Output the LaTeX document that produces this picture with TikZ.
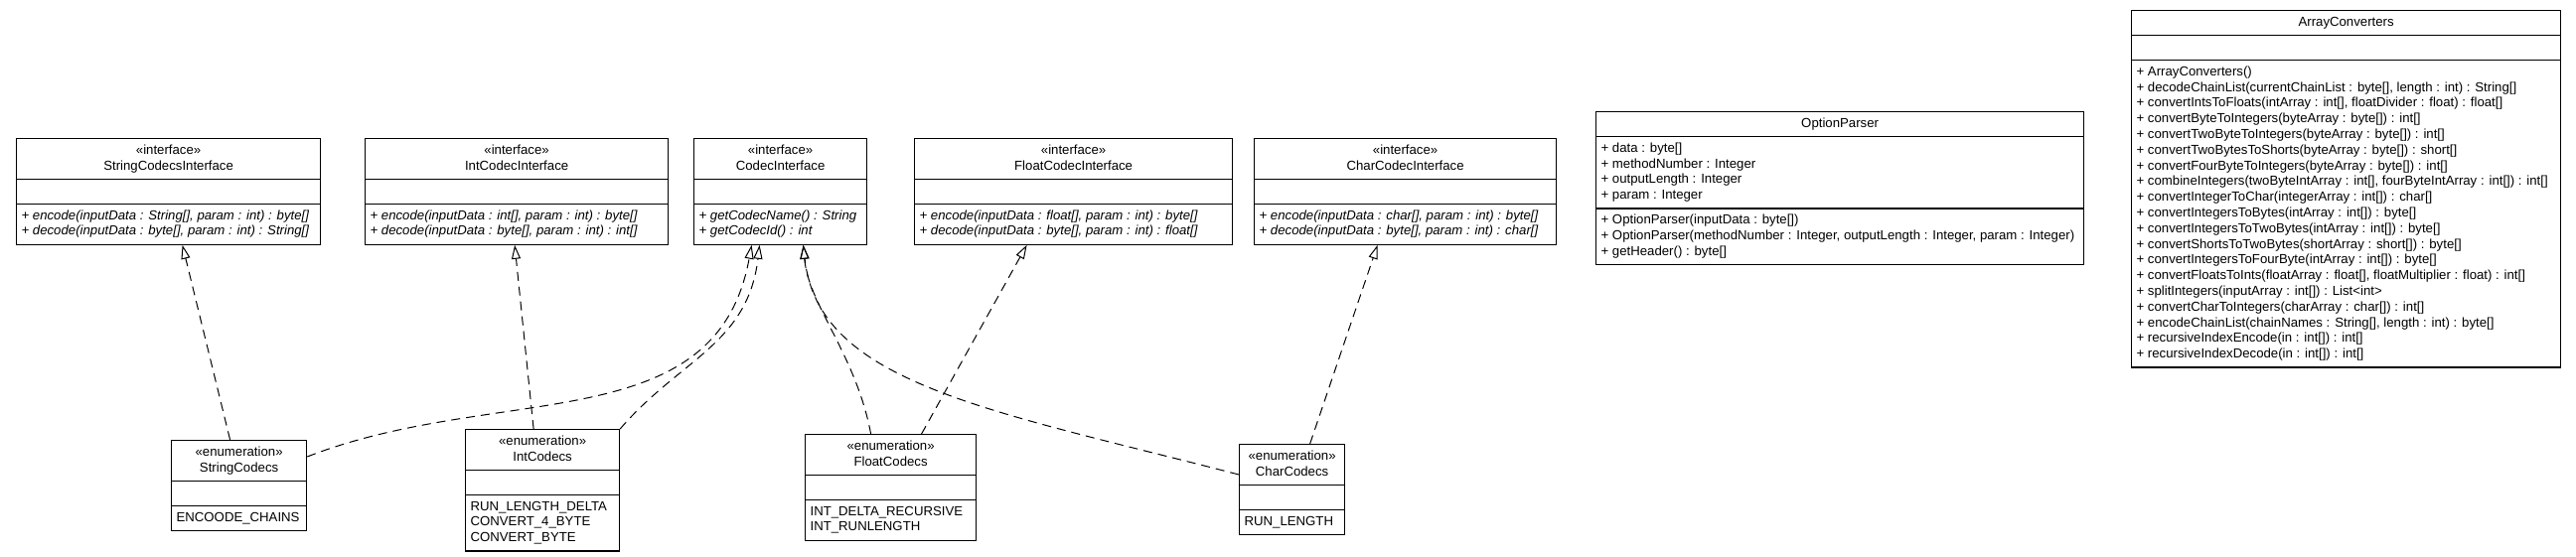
\documentclass[tikz,border=0pt]{standalone}
\usepackage{fontspec}
\setmainfont{Liberation Sans}
\usetikzlibrary{shapes.multipart,arrows.meta}

\newcommand{\umlrows}[2]{\begin{tabular}{@{}#1@{}}#2\end{tabular}}

\tikzset{
  umlbox/.style={draw, line width=1.2pt, rectangle split, rectangle split parts=3,
    rectangle split part align={center,left,left}, anchor=north west,
    inner xsep=5pt, inner ysep=4pt, font=\fontsize{13.2}{15.8}\selectfont},
  realize/.style={line width=1pt, dash pattern=on 9pt off 6pt,
    -{Triangle[open, length=14pt, width=9pt]}}
}

\begin{document}
\begin{tikzpicture}[x=1pt, y=-1pt]
        \useasboundingbox (0,0) rectangle (2593,560);

        % interfaces
        \node[umlbox, minimum width=306pt] (sci) at (16,139)
          {\umlrows{c}{«interface»\\StringCodecsInterface}
           \nodepart{two}\strut
           \nodepart{three}\itshape\umlrows{l}{+ encode(inputData : String[], param : int) : byte[]\\+ decode(inputData : byte[], param : int) : String[]}};
        \node[umlbox, minimum width=305pt] (ici) at (367,139)
          {\umlrows{c}{«interface»\\IntCodecInterface}
           \nodepart{two}\strut
           \nodepart{three}\itshape\umlrows{l}{+ encode(inputData : int[], param : int) : byte[]\\+ decode(inputData : byte[], param : int) : int[]}};
        \node[umlbox, minimum width=174pt] (ci) at (698,139)
          {\umlrows{c}{«interface»\\CodecInterface}
           \nodepart{two}\strut
           \nodepart{three}\itshape\umlrows{l}{+ getCodecName() : String\\+ getCodecId() : int}};
        \node[umlbox, minimum width=320pt] (fci) at (920,139)
          {\umlrows{c}{«interface»\\FloatCodecInterface}
           \nodepart{two}\strut
           \nodepart{three}\itshape\umlrows{l}{+ encode(inputData : float[], param : int) : byte[]\\+ decode(inputData : byte[], param : int) : float[]}};
        \node[umlbox, minimum width=304pt] (cci) at (1262,139)
          {\umlrows{c}{«interface»\\CharCodecInterface}
           \nodepart{two}\strut
           \nodepart{three}\itshape\umlrows{l}{+ encode(inputData : char[], param : int) : byte[]\\+ decode(inputData : byte[], param : int) : char[]}};

        % classes
        \node[umlbox, minimum width=491pt] (op) at (1606,112)
          {\umlrows{c}{OptionParser}
           \nodepart{two}\umlrows{l}{+ data : byte[]\\+ methodNumber : Integer\\+ outputLength : Integer\\+ param : Integer}
           \nodepart{three}\umlrows{l}{+ OptionParser(inputData : byte[])\\+ OptionParser(methodNumber : Integer, outputLength : Integer, param : Integer)\\+ getHeader() : byte[]}};
        \node[umlbox, minimum width=432pt] (ac) at (2145,10)
          {\umlrows{c}{ArrayConverters}
           \nodepart{two}\strut
           \nodepart{three}\umlrows{l}{+ ArrayConverters()\\
             + decodeChainList(currentChainList : byte[], length : int) : String[]\\
             + convertIntsToFloats(intArray : int[], floatDivider : float) : float[]\\
             + convertByteToIntegers(byteArray : byte[]) : int[]\\
             + convertTwoByteToIntegers(byteArray : byte[]) : int[]\\
             + convertTwoBytesToShorts(byteArray : byte[]) : short[]\\
             + convertFourByteToIntegers(byteArray : byte[]) : int[]\\
             + combineIntegers(twoByteIntArray : int[], fourByteIntArray : int[]) : int[]\\
             + convertIntegerToChar(integerArray : int[]) : char[]\\
             + convertIntegersToBytes(intArray : int[]) : byte[]\\
             + convertIntegersToTwoBytes(intArray : int[]) : byte[]\\
             + convertShortsToTwoBytes(shortArray : short[]) : byte[]\\
             + convertIntegersToFourByte(intArray : int[]) : byte[]\\
             + convertFloatsToInts(floatArray : float[], floatMultiplier : float) : int[]\\
             + splitIntegers(inputArray : int[]) : List<int>\\
             + convertCharToIntegers(charArray : char[]) : int[]\\
             + encodeChainList(chainNames : String[], length : int) : byte[]\\
             + recursiveIndexEncode(in : int[]) : int[]\\
             + recursiveIndexDecode(in : int[]) : int[]}};

        % enumerations
        \node[umlbox, minimum width=136pt] (sc) at (172,443)
          {\umlrows{c}{«enumeration»\\StringCodecs}
           \nodepart{two}\strut
           \nodepart{three}\umlrows{l}{ENCOODE\_CHAINS}};
        \node[umlbox, minimum width=155pt] (ic) at (468,432)
          {\umlrows{c}{«enumeration»\\IntCodecs}
           \nodepart{two}\strut
           \nodepart{three}\umlrows{l}{RUN\_LENGTH\_DELTA\\CONVERT\_4\_BYTE\\CONVERT\_BYTE}};
        \node[umlbox, minimum width=172pt] (fc) at (810,437)
          {\umlrows{c}{«enumeration»\\FloatCodecs}
           \nodepart{two}\strut
           \nodepart{three}\umlrows{l}{INT\_DELTA\_RECURSIVE\\INT\_RUNLENGTH}};
        \node[umlbox, minimum width=106pt] (cc) at (1247,447)
          {\umlrows{c}{«enumeration»\\CharCodecs}
           \nodepart{two}\strut
           \nodepart{three}\umlrows{l}{RUN\_LENGTH}};

        % realizations
        \draw[realize] ([xshift=-9pt]sc.north) -- ([xshift=14pt]sci.south);
        \draw[realize] ([xshift=-9pt]ic.north) -- ([xshift=-2pt]ici.south);
        \draw[realize] ([xshift=31pt]fc.north) -- ([xshift=-47pt]fci.south);
        \draw[realize] ([xshift=18pt]cc.north) -- ([xshift=-28pt]cci.south);
        \draw[realize] ([yshift=-17pt]sc.north east) .. controls +(192,-75) and +(-36,197) .. ([xshift=-29pt]ci.south);
        \draw[realize] (ic.north east) .. controls +(60,-70) and +(-12,100) .. ([xshift=-21pt]ci.south);
        \draw[realize] ([xshift=-20pt]fc.north) .. controls +(-15,-80) and +(5,60) .. ([xshift=23pt]ci.south);
        \draw[realize] ([yshift=-31pt]cc.north west) .. controls +(-250,-65) and +(15,140) .. ([xshift=23pt]ci.south);
    \end{tikzpicture}
\end{document}
